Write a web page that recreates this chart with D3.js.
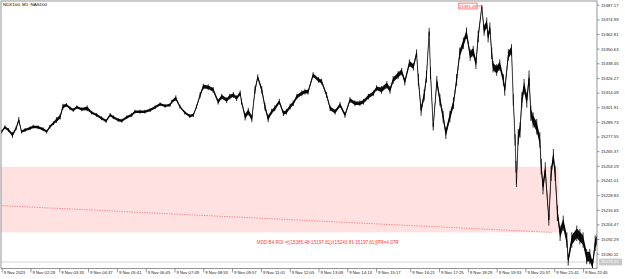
<!DOCTYPE html>
<html>
<head>
<meta charset="utf-8">
<script src="https://cdn.jsdelivr.net/npm/d3@7"></script>
<style>
body { margin: 0; background: #fff; }
text { font-family: "Liberation Sans", Arial, sans-serif; }
</style>
</head>
<body>
<div class="viz"></div>
<script>
// NDX100 M1 - bar index (minutes from first bar) and close price
var bars = [0,7,15,24,32,38,44,52,63,70,81,92,100,107,115,122,130,136,144,152,159,167,178,190,200,211,222,232,241,248,259,267,278,289,296,307,318,330,341,352,363,374,378,387,396,407,418,426,433,441,448,459,470,481,489,500,507,515,522,530,533,541,548,556,563,569,578,585,592,600,607,617,626,633,641,648,656,667,674,681,692,704,711,722,730,741,752,763,774,785,796,804,815,826,833,844,856,863,870,881,889,896,906,915,922,926,932,939,944,950,953,959,967,974,981,987,996,1004,1011,1018,1026,1033,1041,1048,1054,1059,1067,1072,1078,1081,1085,1089,1092,1100,1107,1115,1118,1126,1133,1137,1141,1143,1144,1148,1152,1156,1161,1167,1172,1176,1181,1189,1196,1199,1203,1208,1216,1221,1226,1230,1235,1241,1248,1256,1259,1267,1278,1285,1292,1300,1307,1313,1319,1323];
var closes = [15281.6,15285.2,15283.0,15278.8,15284.4,15291.3,15281.6,15283.0,15284.4,15285.7,15285.2,15283.6,15281.6,15285.7,15288.6,15291.3,15294.1,15302.4,15303.8,15301.0,15299.6,15301.9,15300.2,15301.0,15297.4,15295.5,15292.7,15290.5,15295.5,15293.6,15291.3,15290.7,15293.6,15295.5,15298.2,15298.2,15298.2,15299.6,15301.9,15304.4,15303.0,15303.8,15306.5,15309.4,15302.4,15297.4,15294.6,15295.5,15302.4,15312.1,15319.0,15318.5,15316.3,15306.5,15310.7,15307.9,15310.7,15312.1,15309.4,15313.5,15306.5,15294.1,15298.2,15292.7,15316.3,15326.8,15316.3,15302.4,15292.7,15298.2,15301.0,15306.5,15296.9,15298.2,15302.4,15305.2,15310.7,15313.5,15314.8,15314.8,15328.7,15324.6,15323.2,15312.1,15301.0,15298.2,15303.8,15295.5,15307.9,15305.2,15305.2,15306.5,15310.7,15313.5,15317.7,15316.3,15320.4,15316.3,15324.6,15328.7,15331.5,15323.2,15338.5,15335.6,15346.8,15324.6,15299.6,15312.1,15327.3,15364.7,15330.1,15285.7,15323.2,15307.9,15294.1,15280.3,15294.1,15305.2,15324.6,15346.8,15355.1,15363.4,15345.4,15348.1,15338.5,15360.6,15385.48,15366.1,15371.7,15360.6,15367.6,15346.8,15335.6,15332.9,15337.0,15324.6,15316.3,15345.4,15349.5,15307.9,15274.7,15252.5,15238.7,15277.4,15283.0,15307.9,15319.0,15307.9,15326.0,15296.9,15291.3,15285.7,15274.7,15252.5,15235.9,15249.7,15208.2,15247.0,15260.8,15247.0,15213.7,15197.1,15205.4,15191.5,15174.9,15191.5,15197.1,15194.3,15191.5,15177.7,15177.7,15170.8,15188.8,15191.5];
// high-low span of the bars around each point
var spans = [2,2,2,3,2,3,2,2,2,2,2,2,2,2,2,3,3,3,2,2,2,2,2,3,2,2,2,2,2,2,2,2,2,2,2,2,2,2,2,2,2,2,2,3,2,2,2,2,2,3,3,3,3,3,3,3,3,3,3,3,3,4,4,4,4,3,4,4,4,3,3,3,3,3,3,3,3,3,3,3,3,3,3,3,3,3,3,3,3,3,3,3,3,3,3,4,4,4,4,4,4,4,4,4,4,6,6,6,6,4,6,4,6,6,6,6,6,6,6,6,6,6,6,6,6,6,2,6,6,6,6,6,6,6,6,6,6,6,6,6,6,6,4,8,8,8,8,8,8,8,8,8,8,8,8,8,6,8,8,8,8,8,8,8,6,8,8,8,8,8,8,6,8,6];

var timeBars = [0,64,128,192,256,320,384,448,512,576,640,704,768,832,908,972,1036,1100,1164,1228,1292];
var timeLabels = ["9 Nov 2023","9 Nov 02:29","9 Nov 03:33","9 Nov 04:37","9 Nov 05:41","9 Nov 06:45","9 Nov 07:49","9 Nov 08:53","9 Nov 09:57","9 Nov 11:01","9 Nov 12:05","9 Nov 13:09","9 Nov 14:13","9 Nov 15:17","9 Nov 16:21","9 Nov 17:25","9 Nov 18:29","9 Nov 19:33","9 Nov 20:37","9 Nov 21:41","9 Nov 22:45"];
var priceTicks = [15387.17,15374.99,15362.81,15350.63,15338.45,15326.27,15314.09,15301.91,15289.73,15277.55,15265.37,15253.19,15241.01,15228.83,15216.65,15204.47,15192.29,15180.11];

var zonePrices = [15252.4, 15197.81], zoneBars = [-10, 1238];
var trendBars = [0, 1223], trendPrices = [15220.07, 15197.81];
var peakBar = 1067, peakPrice = 15385.48;
var lowLine = 15173.2;
var roiText = "MDD B4 ROI =[(15385.48-15197.81)/(15243.81-15197.81)]PR=4.07R";
var roiBar = 567, roiPrice = 15189.6;

var width = 625, height = 279;

var svg = d3.select(".viz").append("svg")
    .attr("width", width)
    .attr("height", height);

var x = d3.scaleLinear().domain([0, 1323]).range([1.7, 597]);
var y = d3.scaleLinear().domain([15180.11, 15387.17]).range([253.7, 4.7]);

svg.append("defs").append("clipPath").attr("id", "plot")
    .append("rect").attr("x", 1).attr("y", 1).attr("width", 596).attr("height", 267);

var plot = svg.append("g").attr("clip-path", "url(#plot)");

// pink zone
plot.append("rect")
    .attr("x", x(zoneBars[0]))
    .attr("y", y(zonePrices[0]))
    .attr("width", x(zoneBars[1]) - x(zoneBars[0]))
    .attr("height", y(zonePrices[1]) - y(zonePrices[0]))
    .style("fill", "#ffe1e1");

// dotted trend
plot.append("line")
    .attr("x1", x(trendBars[0])).attr("y1", y(trendPrices[0]))
    .attr("x2", x(trendBars[1])).attr("y2", y(trendPrices[1]))
    .style("stroke", "#ff6a6a")
    .style("stroke-width", 0.7)
    .style("stroke-dasharray", "1.5,1");

// low line
plot.append("line")
    .attr("x1", 1).attr("x2", 597)
    .attr("y1", y(lowLine)).attr("y2", y(lowLine))
    .style("stroke", "#c8c8c8")
    .style("stroke-width", 0.8);

// high-low envelope of the bars
var band = d3.area()
    .x(function(d) { return x(d); })
    .y0(function(d, i) { return y(closes[i] - spans[i] / 2); })
    .y1(function(d, i) { return y(closes[i] + spans[i] / 2); });

plot.append("path")
    .datum(bars)
    .attr("d", band)
    .style("fill", "#111")
    .style("stroke", "none");

plot.selectAll(".bar")
    .data(bars)
    .enter()
    .append("line")
    .attr("class", "bar")
    .attr("x1", function(d) { return x(d); })
    .attr("x2", function(d) { return x(d); })
    .attr("y1", function(d, i) { return y(closes[i] + spans[i] * 0.8); })
    .attr("y2", function(d, i) { return y(closes[i] - spans[i] * 0.8); })
    .style("stroke", "#000")
    .style("stroke-width", 0.8);

var line = d3.line()
    .x(function(d) { return x(d); })
    .y(function(d, i) { return y(closes[i]); });

plot.append("path")
    .datum(bars)
    .attr("d", line)
    .style("fill", "none")
    .style("stroke", "#000")
    .style("stroke-width", 0.7)
    .style("stroke-linejoin", "round");

// roi text
svg.append("text")
    .attr("x", x(roiBar))
    .attr("y", y(roiPrice))
    .attr("dy", "0.35em")
    .style("font-size", "4.6px")
    .style("fill", "#ff3b3b")
    .text(roiText);

// peak label
var px = x(peakBar), py = y(peakPrice);
svg.append("line")
    .attr("x1", px - 5).attr("x2", px)
    .attr("y1", py - 0.8).attr("y2", py - 0.8)
    .style("stroke", "#ff5a5a").style("stroke-width", 0.8);
svg.append("rect")
    .attr("x", px - 23).attr("y", py - 3.6)
    .attr("width", 18.2).attr("height", 5.8)
    .style("fill", "#fff")
    .style("stroke", "#ff5a5a").style("stroke-width", 0.8);
svg.append("text")
    .attr("x", px - 14).attr("y", py - 0.7)
    .attr("dy", "0.35em")
    .style("text-anchor", "middle")
    .style("font-size", "4.2px")
    .style("fill", "#ff3b3b")
    .text(d3.format(".2f")(peakPrice));

// frame
svg.append("rect")
    .attr("x", 1).attr("y", 1).attr("width", 596).attr("height", 267.5)
    .style("fill", "none")
    .style("stroke", "#7a7a7a")
    .style("stroke-width", 0.8);

// title
svg.append("text")
    .attr("x", 3).attr("y", 6.3)
    .style("font-size", "4.4px")
    .style("fill", "#000")
    .text("NDX100, M1: NAS100");

// right axis
var yAxis = svg.append("g")
    .attr("transform", "translate(597,0)")
    .call(d3.axisRight(y).tickValues(priceTicks).tickSize(2.5).tickPadding(1.5)
        .tickFormat(d3.format(".2f")));
yAxis.select(".domain").remove();
yAxis.selectAll("line").style("stroke", "#555").style("stroke-width", 0.6);
yAxis.selectAll("text").style("font-size", "4.2px").style("fill", "#222")
    .style("font-family", "'Liberation Sans', Arial, sans-serif");

// low line price tag
svg.append("rect")
    .attr("x", 599).attr("y", y(lowLine) - 3.4)
    .attr("width", 23).attr("height", 6.8)
    .style("fill", "#c8c8c8");
svg.append("text")
    .attr("x", 601).attr("y", y(lowLine))
    .attr("dy", "0.35em")
    .style("font-size", "4.2px")
    .style("fill", "#fff")
    .text(d3.format(".2f")(lowLine));

// bottom axis
var xAxis = svg.append("g")
    .attr("transform", "translate(0,268.5)")
    .call(d3.axisBottom(x).tickValues(timeBars).tickSize(4).tickPadding(0)
        .tickFormat(function(d, i) { return timeLabels[i]; }));
xAxis.select(".domain").remove();
xAxis.selectAll("line").style("stroke", "#555").style("stroke-width", 0.6);
xAxis.selectAll("text")
    .style("text-anchor", "start")
    .attr("x", 1.5)
    .attr("y", 2.5)
    .attr("dy", "0.71em")
    .style("font-size", "4.2px")
    .style("fill", "#222")
    .style("font-family", "'Liberation Sans', Arial, sans-serif");
</script>
</body>
</html>
